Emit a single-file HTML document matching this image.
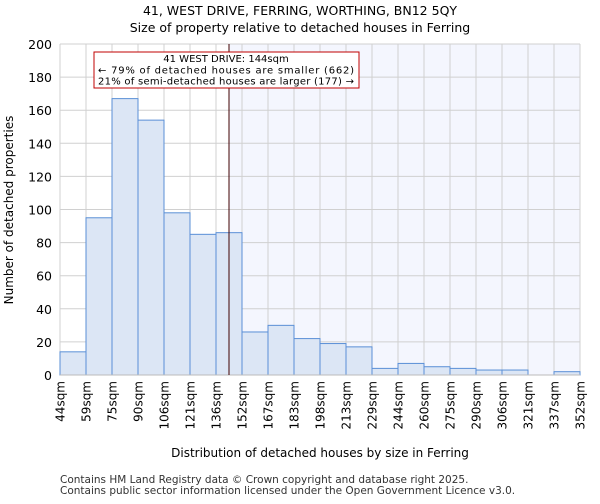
<!DOCTYPE html>
<html><head><meta charset="utf-8"><style>
body{margin:0;background:#fff;font-family:"DejaVu Sans","Liberation Sans",sans-serif;}
</style></head><body>
<svg id="c" width="600" height="500" xmlns="http://www.w3.org/2000/svg" font-family="DejaVu Sans, Liberation Sans, sans-serif">
<text x="300" y="15" text-anchor="middle" font-size="12.5">41, WEST DRIVE, FERRING, WORTHING, BN12 5QY</text>
<text x="300" y="32" text-anchor="middle" font-size="12.5">Size of property relative to detached houses in Ferring</text>
<g id="plot"></g>
<text x="13" y="210" text-anchor="middle" font-size="12" transform="rotate(-90 13 210)">Number of detached properties</text>
<text x="320" y="457" text-anchor="middle" font-size="12">Distribution of detached houses by size in Ferring</text>
<text x="60" y="483" font-size="10.5" fill="#333">Contains HM Land Registry data © Crown copyright and database right 2025.</text>
<text x="60" y="494" font-size="10.5" fill="#333">Contains public sector information licensed under the Open Government Licence v3.0.</text>
</svg>
<script>
const labels=["44sqm","59sqm","75sqm","90sqm","106sqm","121sqm","136sqm","152sqm","167sqm","183sqm","198sqm","213sqm","229sqm","244sqm","260sqm","275sqm","290sqm","306sqm","321sqm","337sqm","352sqm"];
const counts=[14,95,167,154,98,85,86,26,30,22,19,17,4,7,5,4,3,3,0,2];
const yTicks=[0,20,40,60,80,100,120,140,160,180,200];
const propertyIndex=6.5;
const L=60,R=580,T=44,B=375,yMax=200;
const bw=(R-L)/counts.length;
const x=i=>L+i*bw;
const y=v=>B-(v/yMax)*(B-T);
const ns="http://www.w3.org/2000/svg";
const g=document.getElementById('plot');
function mk(t,a){const e=document.createElementNS(ns,t);for(const k in a)e.setAttribute(k,a[k]);g.appendChild(e);return e;}
const px=x(propertyIndex);
let e=mk('rect',{x:px,y:T,width:R-px,height:B-T,fill:'#f4f6fe'});


yTicks.forEach(v=>{
 let l=mk('line',{x1:L,x2:R,y1:y(v),y2:y(v),stroke:'#d0d0d0','stroke-width':1});
 
 
 let t=mk('text',{x:L-8,y:y(v)+5,'text-anchor':'end','font-size':12.5});
 t.textContent=v;
 
 
});
labels.forEach((s,i)=>{
 let l=mk('line',{x1:x(i),x2:x(i),y1:T,y2:B,stroke:'#d0d0d0','stroke-width':1});
 
 
 let xx=x(i)+4.5;
 let t=mk('text',{x:xx,y:381,'text-anchor':'end','font-size':12,transform:`rotate(-90 ${xx} 381)`});
 t.textContent=s;
 
 
});
counts.forEach((v,i)=>{
 let r=mk('rect',{x:x(i),y:y(v),width:bw,height:B-y(v),fill:'#dce6f5',stroke:'#5a8fd6','stroke-width':1});
 
 
});
e=mk('line',{x1:L,x2:R,y1:B,y2:B,stroke:'#bbb'});


e=mk('line',{x1:px,x2:px,y1:T,y2:B,stroke:'#400000','stroke-width':1});


e=mk('rect',{x:94,y:52,width:265,height:36,fill:'#fff',stroke:'#c00000','stroke-width':1});


[["41 WEST DRIVE: 144sqm",62],["← 79% of detached houses are smaller (662)",73.5],["21% of semi-detached houses are larger (177) →",84.5]].forEach(([s,yy])=>{
 let t=mk('text',{x:226,y:yy,'text-anchor':'middle','font-size':10,textLength:s.length>30?256:0});
 if(s.length<=30)t.removeAttribute('textLength');
 t.textContent=s;
 
 
});
</script>
</body></html>
